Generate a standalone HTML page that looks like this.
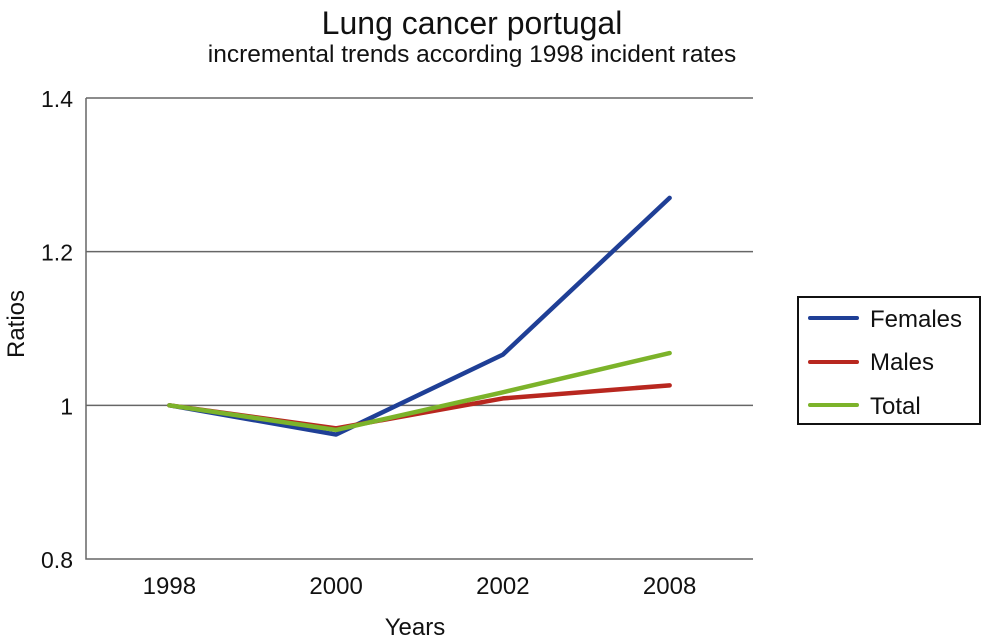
<!DOCTYPE html>
<html><head><meta charset="utf-8"><style>
html,body{margin:0;padding:0;background:#fff;}
svg{display:block;font-family:"Liberation Sans",Arial,sans-serif;}
</style></head><body>
<svg id="chart" width="984" height="642" viewBox="0 0 984 642">
<text x="472" y="34" font-size="32" text-anchor="middle" fill="#111">Lung cancer portugal</text>
<text x="472" y="62" font-size="24.5" text-anchor="middle" fill="#111">incremental trends according 1998 incident rates</text>
<g id="grid"></g>
<g id="series"></g>
<g id="labels"></g>
<text x="415" y="635" font-size="24" text-anchor="middle" fill="#111">Years</text>
<text transform="translate(24,324) rotate(-90)" font-size="24" text-anchor="middle" fill="#111">Ratios</text>
<g>
<rect x="798" y="297" width="182" height="127" fill="#fff" stroke="#111" stroke-width="2"/>
<g><line x1="810" y1="318" x2="857" y2="318" stroke="#1f3f96" stroke-width="4" stroke-linecap="round"/><text x="870" y="327" font-size="24" fill="#111">Females</text></g>
<g><line x1="810" y1="362" x2="857" y2="362" stroke="#b8271f" stroke-width="4" stroke-linecap="round"/><text x="870" y="370" font-size="24" fill="#111">Males</text></g>
<g><line x1="810" y1="405" x2="857" y2="405" stroke="#7cb32a" stroke-width="4" stroke-linecap="round"/><text x="870" y="414" font-size="24" fill="#111">Total</text></g>
</g>
</svg>
<script>
const categories = ["1998","2000","2002","2008"];
const females = [1.0, 0.962, 1.066, 1.27];
const males = [1.0, 0.970, 1.009, 1.026];
const total = [1.0, 0.968, 1.017, 1.068];
const yTicks = [0.8, 1.0, 1.2, 1.4];
const yTickLabels = ["0.8","1","1.2","1.4"];

const NS = "http://www.w3.org/2000/svg";
const plotL = 86, plotR = 753, plotT = 98, plotB = 559;
const yMin = 0.8, yMax = 1.4;
function y(v){ return plotB - (v - yMin) / (yMax - yMin) * (plotB - plotT); }
function x(i){ const w = (plotR - plotL) / categories.length; return plotL + w * (i + 0.5); }
function mk(tag, attrs, parent){ const e = document.createElementNS(NS, tag); for (const k in attrs) e.setAttribute(k, attrs[k]); parent.appendChild(e); return e; }

const grid = document.getElementById('grid');
const labels = document.getElementById('labels');
yTicks.forEach((t, i) => {
  if (i > 0) {
    const gl = mk('line', {x1: plotL, x2: plotR, y1: y(t), y2: y(t), stroke: '#666', 'stroke-width': 1.5}, grid);
    
    
  }
  const tl = mk('text', {x: 73, y: y(t) + 9, 'font-size': 23, 'text-anchor': 'end', fill: '#111'}, labels);
  tl.textContent = yTickLabels[i];
  
  
});
const ax = mk('polyline', {points: `${plotL},${plotT} ${plotL},${plotB} ${plotR},${plotB}`, fill: 'none', stroke: '#666', 'stroke-width': 1.5}, grid);


categories.forEach((c, i) => {
  const t = mk('text', {x: x(i), y: 594, 'font-size': 24, 'text-anchor': 'middle', fill: '#111'}, labels);
  t.textContent = c;
  
  
});
const seriesG = document.getElementById('series');
[[females, '#1f3f96', 'females'], [males, '#b8271f', 'males'], [total, '#7cb32a', 'total']].forEach(([d, col, nm]) => {
  const pts = d.map((v, i) => x(i) + ',' + y(v)).join(' ');
  const pl = mk('polyline', {points: pts, fill: 'none', stroke: col, 'stroke-width': 4.5, 'stroke-linecap': 'round', 'stroke-linejoin': 'round'}, seriesG);
  
  
});
</script>
</body></html>
